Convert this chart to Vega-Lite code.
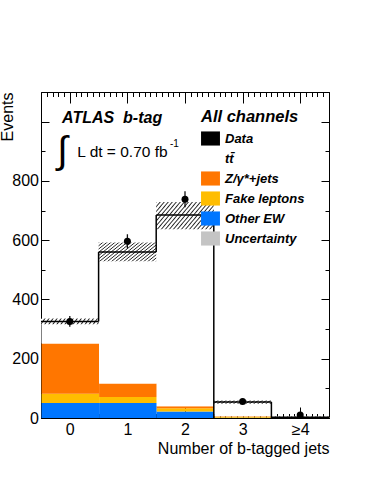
{
  "$schema": "https://vega.github.io/schema/vega-lite/v6.json",
  "width": 288,
  "height": 326,
  "autosize": {"type": "none"},
  "padding": {"left": 41, "top": 92, "right": 45, "bottom": 66},
  "background": "white",
  "config": {
    "view": {"stroke": null},
    "font": "Liberation Sans",
    "axis": {
      "grid": false, "zindex": 1,
      "labelFont": "Liberation Sans", "titleFont": "Liberation Sans",
      "labelColor": "black", "titleColor": "black", "tickColor": "black", "domainColor": "black",
      "labelFontSize": 16, "titleFontSize": 16, "titleFontWeight": "normal",
      "tickWidth": 1, "domainWidth": 1
    }
  },
  "datasets": {
    "stack": [
      {"bin": 0, "x0": -0.5, "x1": 0.5, "process": "Other EW", "ord": 1, "n": 51},
      {"bin": 0, "x0": -0.5, "x1": 0.5, "process": "Fake leptons", "ord": 2, "n": 31},
      {"bin": 0, "x0": -0.5, "x1": 0.5, "process": "Z/γ*+jets", "ord": 3, "n": 169},
      {"bin": 0, "x0": -0.5, "x1": 0.5, "process": "tt\u0304", "ord": 4, "n": 75},
      {"bin": 1, "x0": 0.5, "x1": 1.5, "process": "Other EW", "ord": 1, "n": 51},
      {"bin": 1, "x0": 0.5, "x1": 1.5, "process": "Fake leptons", "ord": 2, "n": 20},
      {"bin": 1, "x0": 0.5, "x1": 1.5, "process": "Z/γ*+jets", "ord": 3, "n": 45},
      {"bin": 1, "x0": 0.5, "x1": 1.5, "process": "tt\u0304", "ord": 4, "n": 444},
      {"bin": 2, "x0": 1.5, "x1": 2.5, "process": "Other EW", "ord": 1, "n": 22},
      {"bin": 2, "x0": 1.5, "x1": 2.5, "process": "Fake leptons", "ord": 2, "n": 11},
      {"bin": 2, "x0": 1.5, "x1": 2.5, "process": "Z/γ*+jets", "ord": 3, "n": 7},
      {"bin": 2, "x0": 1.5, "x1": 2.5, "process": "tt\u0304", "ord": 4, "n": 645},
      {"bin": 3, "x0": 2.5, "x1": 3.5, "process": "Other EW", "ord": 1, "n": 1},
      {"bin": 3, "x0": 2.5, "x1": 3.5, "process": "Fake leptons", "ord": 2, "n": 3},
      {"bin": 3, "x0": 2.5, "x1": 3.5, "process": "Z/γ*+jets", "ord": 3, "n": 1.5},
      {"bin": 3, "x0": 2.5, "x1": 3.5, "process": "tt\u0304", "ord": 4, "n": 48.5},
      {"bin": 4, "x0": 3.5, "x1": 4.5, "process": "Other EW", "ord": 1, "n": 0.2},
      {"bin": 4, "x0": 3.5, "x1": 4.5, "process": "Fake leptons", "ord": 2, "n": 0.3},
      {"bin": 4, "x0": 3.5, "x1": 4.5, "process": "Z/γ*+jets", "ord": 3, "n": 0.2},
      {"bin": 4, "x0": 3.5, "x1": 4.5, "process": "tt\u0304", "ord": 4, "n": 2}
    ],
    "bins": [
      {"bin": 0, "x0": -0.5, "x1": 0.5, "total": 326, "data": 326, "dlo": 308, "dhi": 344, "ulo": 316, "uhi": 336},
      {"bin": 1, "x0": 0.5, "x1": 1.5, "total": 560, "data": 596, "dlo": 572, "dhi": 620, "ulo": 529, "uhi": 592},
      {"bin": 2, "x0": 1.5, "x1": 2.5, "total": 685, "data": 738, "dlo": 711, "dhi": 765, "ulo": 637, "uhi": 729},
      {"bin": 3, "x0": 2.5, "x1": 3.5, "total": 54, "data": 56, "dlo": 48.5, "dhi": 63.5, "ulo": 48, "uhi": 59},
      {"bin": 4, "x0": 3.5, "x1": 4.5, "total": 2.7, "data": 10, "dlo": 6.8, "dhi": 13.2, "ulo": 0.5, "uhi": 5}
    ],
    "edges": [
      {"edge": 0.5, "from": 326, "to": 560},
      {"edge": 1.5, "from": 560, "to": 685},
      {"edge": 2.5, "from": 0, "to": 685},
      {"edge": 3.5, "from": 0, "to": 54}
    ]
  },
  "resolve": {"axis": {"x": "independent", "y": "independent"}},
  "layer": [
    {
      "data": {"name": "stack"},
      "mark": {"type": "bar", "orient": "vertical", "binSpacing": 0, "strokeWidth": 0},
      "encoding": {
        "x": {"field": "x0", "type": "quantitative", "bin": "binned", "scale": {"domain": [-0.5, 4.5], "nice": false},
          "axis": {"orient": "bottom", "values": [0, 1, 2, 3, 4], "tickSize": -11, "labelPadding": 14,
            "labelExpr": "datum.value == 4 ? '≥4' : datum.label", "title": "Number of b-tagged jets",
            "titleAnchor": "end", "titlePadding": 3, "domain": true}},
        "x2": {"field": "x1"},
        "y": {"field": "n", "type": "quantitative", "stack": "zero", "scale": {"domain": [0, 1100], "nice": false},
          "axis": {"orient": "left", "values": [0, 200, 400, 600, 800, 1000], "tickSize": -8, "labelPadding": 10.5,
            "labelExpr": "datum.value >= 1000 ? '' : datum.label", "title": "Events", "titleAnchor": "end",
            "titlePadding": -4, "domain": true}},
        "fill": {"field": "process", "type": "nominal",
          "scale": {"domain": ["Data", "tt\u0304", "Z/γ*+jets", "Fake leptons", "Other EW", "Uncertainty"],
                    "range": ["black", "white", "#ff7600", "#ffbd00", "#0076ff", "#c4c4c4"]},
          "legend": {
            "orient": "none", "legendX": 160, "legendY": 16.5, "padding": 0,
            "title": "All channels", "titleFont": "Liberation Sans", "titleFontSize": 16.5, "titleFontWeight": "bold",
            "titleFontStyle": "italic", "titleColor": "black", "titlePadding": 4, "titleAnchor": "start",
            "labelFont": "Liberation Sans", "labelFontSize": 13, "labelFontWeight": "bold", "labelFontStyle": "italic",
            "labelColor": "black", "labelOffset": 5, "rowPadding": -4,
            "symbolType": "M-1.1,-0.82H1.1V0.82H-1.1Z", "symbolSize": 296, "symbolStrokeWidth": 1.3,
            "encode": {
              "symbols": {"update": {
                "shape": {"condition": {"test": "datum.value === 'Data'", "value": "circle"}, "value": "M-1.1,-0.82H1.1V0.82H-1.1Z"},
                "size": {"condition": {"test": "datum.value === 'Data'", "value": 30}, "value": 296},
                "stroke": {"condition": {"test": "datum.value === 'tt\u0304'", "value": "black"}, "value": "transparent"},
                "strokeWidth": {"value": 1.3},
                "opacity": {"value": 1},
                "fillOpacity": {"value": 1}
              }}
            }
          }},
        "order": {"field": "ord", "type": "quantitative"}
      }
    },
    {
      "data": {"name": "bins"},
      "transform": [{"filter": "datum.bin == 1 || datum.bin == 2"}],
      "mark": {"type": "rect", "strokeWidth": 0, "fill": {"gradient": "linear", "x1": 0, "y1": 0, "x2": 1.207, "y2": 0.483, "stops": [
        {"offset": 0, "color": "#222"}, {"offset": 0.015, "color": "#fff"}, {"offset": 0.035, "color": "#fff"},
        {"offset": 0.05, "color": "#222"}, {"offset": 0.065, "color": "#fff"}, {"offset": 0.085, "color": "#fff"},
        {"offset": 0.1, "color": "#222"}, {"offset": 0.115, "color": "#fff"}, {"offset": 0.135, "color": "#fff"},
        {"offset": 0.15, "color": "#222"}, {"offset": 0.165, "color": "#fff"}, {"offset": 0.185, "color": "#fff"},
        {"offset": 0.2, "color": "#222"}, {"offset": 0.215, "color": "#fff"}, {"offset": 0.235, "color": "#fff"},
        {"offset": 0.25, "color": "#222"}, {"offset": 0.265, "color": "#fff"}, {"offset": 0.285, "color": "#fff"},
        {"offset": 0.3, "color": "#222"}, {"offset": 0.315, "color": "#fff"}, {"offset": 0.335, "color": "#fff"},
        {"offset": 0.35, "color": "#222"}, {"offset": 0.365, "color": "#fff"}, {"offset": 0.385, "color": "#fff"},
        {"offset": 0.4, "color": "#222"}, {"offset": 0.415, "color": "#fff"}, {"offset": 0.435, "color": "#fff"},
        {"offset": 0.45, "color": "#222"}, {"offset": 0.465, "color": "#fff"}, {"offset": 0.485, "color": "#fff"},
        {"offset": 0.5, "color": "#222"}, {"offset": 0.515, "color": "#fff"}, {"offset": 0.535, "color": "#fff"},
        {"offset": 0.55, "color": "#222"}, {"offset": 0.565, "color": "#fff"}, {"offset": 0.585, "color": "#fff"},
        {"offset": 0.6, "color": "#222"}, {"offset": 0.615, "color": "#fff"}, {"offset": 0.635, "color": "#fff"},
        {"offset": 0.65, "color": "#222"}, {"offset": 0.665, "color": "#fff"}, {"offset": 0.685, "color": "#fff"},
        {"offset": 0.7, "color": "#222"}, {"offset": 0.715, "color": "#fff"}, {"offset": 0.735, "color": "#fff"},
        {"offset": 0.75, "color": "#222"}, {"offset": 0.765, "color": "#fff"}, {"offset": 0.785, "color": "#fff"},
        {"offset": 0.8, "color": "#222"}, {"offset": 0.815, "color": "#fff"}, {"offset": 0.835, "color": "#fff"},
        {"offset": 0.85, "color": "#222"}, {"offset": 0.865, "color": "#fff"}, {"offset": 0.885, "color": "#fff"},
        {"offset": 0.9, "color": "#222"}, {"offset": 0.915, "color": "#fff"}, {"offset": 0.935, "color": "#fff"},
        {"offset": 0.95, "color": "#222"}, {"offset": 0.965, "color": "#fff"}, {"offset": 0.985, "color": "#fff"},
        {"offset": 1, "color": "#222"}]}},
      "encoding": {
        "x": {"field": "x0", "type": "quantitative",
          "axis": {"orient": "bottom", "tickCount": 50, "tickSize": -4.5, "labels": false, "domain": false, "title": null}},
        "x2": {"field": "x1"},
        "y": {"field": "ulo", "type": "quantitative",
          "axis": {"orient": "left", "tickCount": 11, "tickSize": -4, "labels": false, "domain": false, "title": null}},
        "y2": {"field": "uhi"}
      }
    },
    {
      "data": {"name": "bins"},
      "transform": [{"filter": "datum.bin == 0 || datum.bin == 3 || datum.bin == 4"}],
      "mark": {"type": "rect", "strokeWidth": 0, "fill": {"gradient": "linear", "x1": 0, "y1": 0, "x2": 1.393, "y2": 0.104, "stops": [
        {"offset": 0, "color": "#222"}, {"offset": 0.015, "color": "#fff"}, {"offset": 0.035, "color": "#fff"},
        {"offset": 0.05, "color": "#222"}, {"offset": 0.065, "color": "#fff"}, {"offset": 0.085, "color": "#fff"},
        {"offset": 0.1, "color": "#222"}, {"offset": 0.115, "color": "#fff"}, {"offset": 0.135, "color": "#fff"},
        {"offset": 0.15, "color": "#222"}, {"offset": 0.165, "color": "#fff"}, {"offset": 0.185, "color": "#fff"},
        {"offset": 0.2, "color": "#222"}, {"offset": 0.215, "color": "#fff"}, {"offset": 0.235, "color": "#fff"},
        {"offset": 0.25, "color": "#222"}, {"offset": 0.265, "color": "#fff"}, {"offset": 0.285, "color": "#fff"},
        {"offset": 0.3, "color": "#222"}, {"offset": 0.315, "color": "#fff"}, {"offset": 0.335, "color": "#fff"},
        {"offset": 0.35, "color": "#222"}, {"offset": 0.365, "color": "#fff"}, {"offset": 0.385, "color": "#fff"},
        {"offset": 0.4, "color": "#222"}, {"offset": 0.415, "color": "#fff"}, {"offset": 0.435, "color": "#fff"},
        {"offset": 0.45, "color": "#222"}, {"offset": 0.465, "color": "#fff"}, {"offset": 0.485, "color": "#fff"},
        {"offset": 0.5, "color": "#222"}, {"offset": 0.515, "color": "#fff"}, {"offset": 0.535, "color": "#fff"},
        {"offset": 0.55, "color": "#222"}, {"offset": 0.565, "color": "#fff"}, {"offset": 0.585, "color": "#fff"},
        {"offset": 0.6, "color": "#222"}, {"offset": 0.615, "color": "#fff"}, {"offset": 0.635, "color": "#fff"},
        {"offset": 0.65, "color": "#222"}, {"offset": 0.665, "color": "#fff"}, {"offset": 0.685, "color": "#fff"},
        {"offset": 0.7, "color": "#222"}, {"offset": 0.715, "color": "#fff"}, {"offset": 0.735, "color": "#fff"},
        {"offset": 0.75, "color": "#222"}, {"offset": 0.765, "color": "#fff"}, {"offset": 0.785, "color": "#fff"},
        {"offset": 0.8, "color": "#222"}]}},
      "encoding": {
        "x": {"field": "x0", "type": "quantitative",
          "axis": {"orient": "top", "values": [0, 1, 2, 3, 4], "tickSize": -11, "labels": false, "domain": true, "title": null}},
        "x2": {"field": "x1"},
        "y": {"field": "ulo", "type": "quantitative",
          "axis": {"orient": "right", "values": [0, 200, 400, 600, 800, 1000], "tickSize": -8, "labels": false, "domain": true, "title": null}},
        "y2": {"field": "uhi"}
      }
    },
    {
      "data": {"name": "bins"},
      "mark": {"type": "rule", "color": "black", "strokeWidth": 1.5},
      "encoding": {
        "x": {"field": "x0", "type": "quantitative",
          "axis": {"orient": "top", "tickCount": 50, "tickSize": -4.5, "labels": false, "domain": false, "title": null}},
        "x2": {"field": "x1"},
        "y": {"field": "total", "type": "quantitative",
          "axis": {"orient": "right", "tickCount": 11, "tickSize": -4, "labels": false, "domain": false, "title": null}}
      }
    },
    {
      "data": {"name": "edges"},
      "mark": {"type": "rule", "color": "black", "strokeWidth": 1.5},
      "encoding": {
        "x": {"field": "edge", "type": "quantitative", "axis": null},
        "y": {"field": "from", "type": "quantitative", "axis": null},
        "y2": {"field": "to"}
      }
    },
    {
      "data": {"name": "bins"},
      "mark": {"type": "rule", "color": "#111", "strokeWidth": 1.3},
      "encoding": {
        "x": {"field": "bin", "type": "quantitative", "axis": null},
        "y": {"field": "dlo", "type": "quantitative", "axis": null},
        "y2": {"field": "dhi"}
      }
    },
    {
      "data": {"name": "bins"},
      "mark": {"type": "point", "filled": true, "size": 49, "color": "black", "opacity": 1},
      "encoding": {
        "x": {"field": "bin", "type": "quantitative", "axis": null},
        "y": {"field": "data", "type": "quantitative", "axis": null}
      }
    },
    {
      "data": {"values": [{"t": "ATLAS\u00a0\u00a0b-tag"}]},
      "mark": {"type": "text", "font": "Liberation Sans", "fontSize": 16, "fontWeight": "bold", "fontStyle": "italic", "align": "left", "baseline": "alphabetic", "color": "black"},
      "encoding": {
        "x": {"datum": -0.135, "type": "quantitative", "axis": null},
        "y": {"datum": 995, "type": "quantitative", "axis": null},
        "text": {"field": "t"}
      }
    },
    {
      "data": {"values": [{"t": "∫"}]},
      "mark": {"type": "text", "font": "Liberation Sans", "fontSize": 38, "align": "center", "baseline": "middle", "color": "black"},
      "encoding": {
        "x": {"datum": -0.127, "type": "quantitative", "axis": null},
        "y": {"datum": 897, "type": "quantitative", "axis": null},
        "text": {"field": "t"}
      }
    },
    {
      "data": {"values": [{"t": "L dt = 0.70 fb"}]},
      "mark": {"type": "text", "font": "Liberation Sans", "fontSize": 15.5, "align": "left", "baseline": "alphabetic", "color": "black"},
      "encoding": {
        "x": {"datum": 0.13, "type": "quantitative", "axis": null},
        "y": {"datum": 879, "type": "quantitative", "axis": null},
        "text": {"field": "t"}
      }
    },
    {
      "data": {"values": [{"t": "-1"}]},
      "mark": {"type": "text", "font": "Liberation Sans", "fontSize": 10, "align": "left", "baseline": "alphabetic", "color": "black"},
      "encoding": {
        "x": {"datum": 1.74, "type": "quantitative", "axis": null},
        "y": {"datum": 914, "type": "quantitative", "axis": null},
        "text": {"field": "t"}
      }
    }
  ]
}
